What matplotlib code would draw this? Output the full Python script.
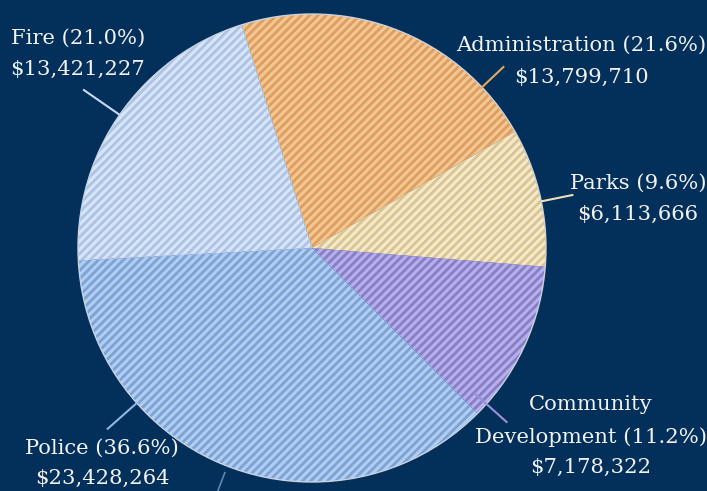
import matplotlib
matplotlib.use("Agg")
import matplotlib.pyplot as plt
import numpy as np

# ---- data ----
categories = ["Administration", "Parks", "Community Development", "Police", "Fire"]
values = [13799710, 6113666, 7178322, 23428264, 13421227]
label_lines = [
    ["Administration (21.6%)", "$13,799,710"],
    ["Parks (9.6%)", "$6,113,666"],
    ["Community", "Development (11.2%)", "$7,178,322"],
    ["Police (36.6%)", "$23,428,264"],
    ["Fire (21.0%)", "$13,421,227"],
]

# ---- styling ----
bg = "#02305b"
fills = ["#f4c690", "#f5e9c8", "#b6afec", "#b0cef3", "#d6e5fa"]
hatch_cols = ["#dc9e62", "#d8c596", "#877ec4", "#7ea2d3", "#aec3e3"]
leader_cols = ["#e6a760", "#efe0b5", "#9d90d8", "#8fb6e6", "#c5d9f3"]

W, H, DPI = 707, 491, 100
cx, cy, R = 312, 248, 234  # pie centre/radius in pixels

plt.rcParams["hatch.linewidth"] = 2.0
fig = plt.figure(figsize=(W / DPI, H / DPI), dpi=DPI, facecolor=bg)
ax = fig.add_axes([0, 0, 1, 1])
ax.set_facecolor(bg)

wedges, _ = ax.pie(values, startangle=107.5, counterclock=False, radius=1.0,
                   colors=fills, wedgeprops=dict(linewidth=0))
for w, hc in zip(wedges, hatch_cols):
    w.set_hatch("////")
    w.set_edgecolor(hc)
    w.set_linewidth(0)
ax.add_patch(plt.Circle((0, 0), 1.0, fill=False, edgecolor="#c9d2de", lw=1.0, zorder=3))
ax.set_aspect("auto")
ax.set_xlim(-cx / R, (W - cx) / R)
ax.set_ylim(-(H - cy) / R, cy / R)
ax.axis("off")

def px(x, y):
    return (x - cx) / R, (cy - y) / R

# label positions (pixel centres of each line)
label_pos = [
    (581, [45, 77]),
    (638, [183, 214]),
    (591, [405, 437, 467]),
    (102, [448, 478]),
    (78, [38, 69]),
]
for lines, (x, ys) in zip(label_lines, label_pos):
    for t, y in zip(lines, ys):
        dx, dy = px(x, y)
        ax.text(dx, dy, t, ha="center", va="center", color="#f2f2f2",
                fontsize=15.2, family="DejaVu Serif")

# leader lines: (angle deg, r_start, r_end)
leaders = [(43.4, 0.99, 1.13), (11.5, 1.0, 1.14), (-41.8, 0.93, 1.12),
           (-138.5, 1.0, 1.17), (145.3, 1.0, 1.19)]
for (a, r0, r1), c in zip(leaders, leader_cols):
    t = np.deg2rad(a)
    ax.plot([r0 * np.cos(t), r1 * np.cos(t)], [r0 * np.sin(t), r1 * np.sin(t)],
            color=c, lw=1.5, solid_capstyle="butt", zorder=4)
# original police leader running off the bottom
t = np.deg2rad(-111.2)
ax.plot([1.03 * np.cos(t), 1.2 * np.cos(t)], [1.03 * np.sin(t), 1.2 * np.sin(t)],
        color="#5f86b8", lw=1.2, zorder=4)

fig.savefig("out.png", dpi=DPI, facecolor=bg)
